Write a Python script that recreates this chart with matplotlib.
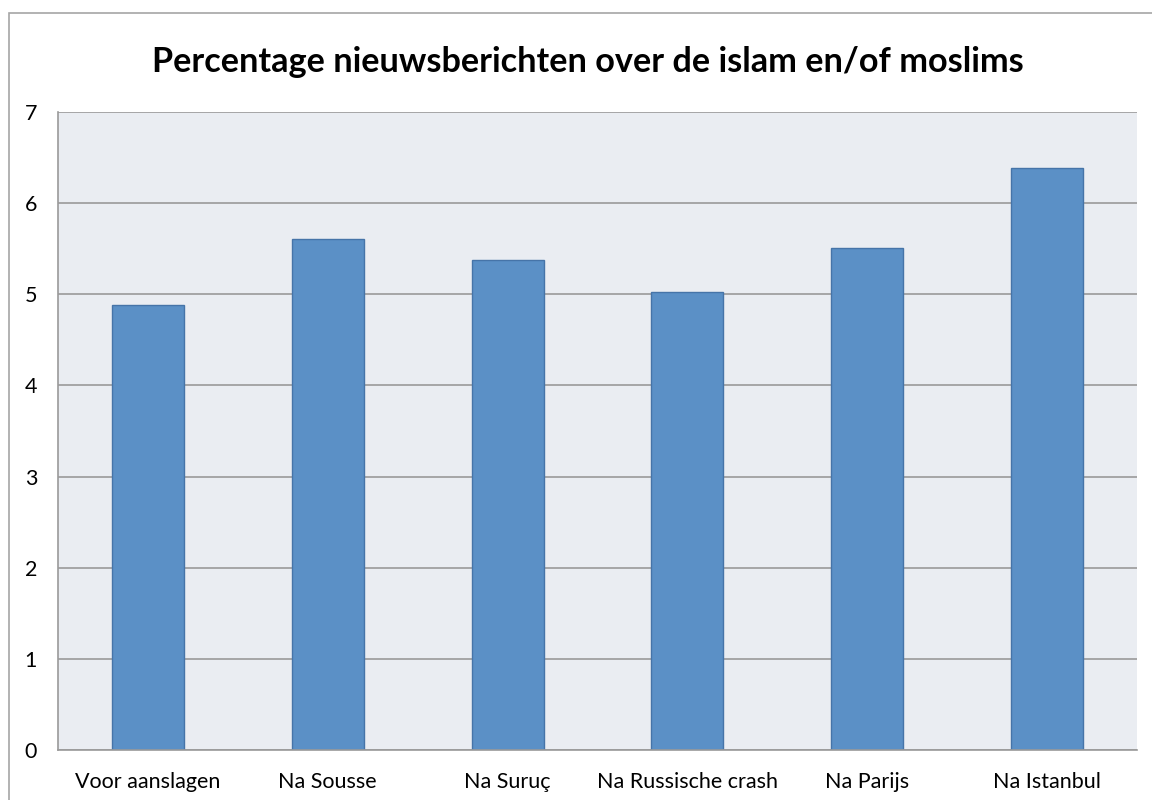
import numpy as np
import matplotlib
matplotlib.use("Agg")
import matplotlib.pyplot as plt
from matplotlib.patches import Rectangle

categories = ["Voor aanslagen", "Na Sousse", "Na Suruç", "Na Russische crash", "Na Parijs", "Na Istanbul"]
values = [4.88, 5.61, 5.38, 5.03, 5.51, 6.39]
yticks = [0, 1, 2, 3, 4, 5, 6, 7]

plt.rcParams['font.family'] = ['Lato', 'DejaVu Sans']

fig = plt.figure(figsize=(11.52, 8), dpi=100)
fig.patch.set_facecolor("white")
fig.patches.append(Rectangle((9/1152, -0.05), 1.2, 1 - 13/800 + 0.05, transform=fig.transFigure,
                             fill=False, edgecolor="#a6a6a6", linewidth=1.2))

ax = fig.add_axes([58/1152, 50/800, (1137-58)/1152, (750-112)/800])
ax.set_facecolor("#eaedf2")
x = np.arange(len(categories))
ax.set_axisbelow(True)
ax.yaxis.grid(True, color="#9a9a9a", linewidth=1.2)
ax.bar(x, values, width=0.4, color="#5b90c6", edgecolor="#4674a8", linewidth=1)
ax.set_xlim(-0.5, len(categories) - 0.5)
ax.set_ylim(0, 7)
ax.set_yticks(yticks)
ax.set_xticks(x)
ax.set_xticklabels(categories, fontsize=15.5)
ax.tick_params(axis="y", labelsize=15.5, length=0, pad=15)
ax.tick_params(axis="x", length=0, pad=16)
for s in ["top", "right"]:
    ax.spines[s].set_visible(False)
ax.spines["left"].set_color("#9a9a9a")
ax.spines["bottom"].set_color("#9a9a9a")
ax.spines["left"].set_linewidth(1.2)
ax.spines["bottom"].set_linewidth(1.2)

fig.text(588/1152, 1 - 62/800, "Percentage nieuwsberichten over de islam en/of moslims",
         ha="center", va="center", fontsize=24.7, fontweight="bold")

fig.savefig("out.png", dpi=100)
